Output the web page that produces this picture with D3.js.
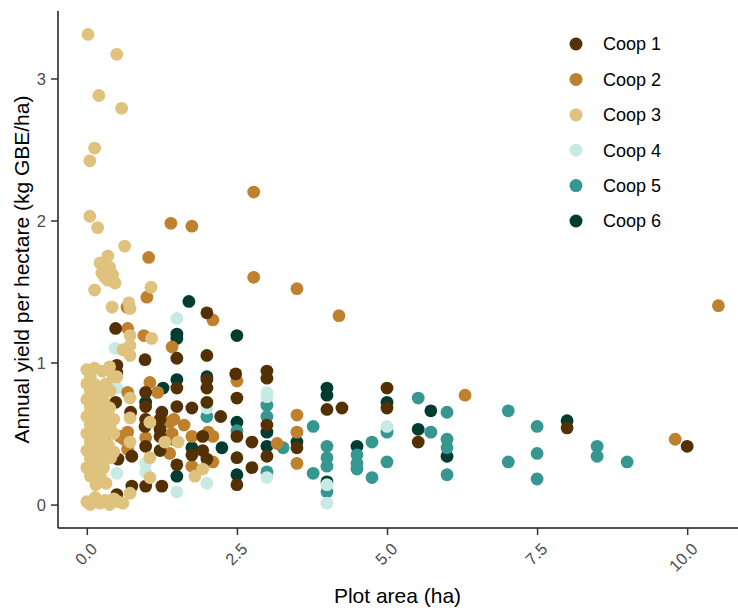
<!DOCTYPE html>
<html>
<head>
<meta charset="utf-8">
<script src="https://cdn.jsdelivr.net/npm/d3@7"></script>
<style>
  body { margin: 0; background: #fff; }
  svg { font-family: Arial, "Liberation Sans", sans-serif; }
</style>
</head>
<body>
<div id="plot"></div>
<script>
// Coop names and colours (BrBG palette)
const coopNames = ['Coop 1', 'Coop 2', 'Coop 3', 'Coop 4', 'Coop 5', 'Coop 6'];
const coopColors = ['#543005', '#bf812d', '#dfc27d', '#c7eae5', '#35978f', '#003c30'];

// [plot area (ha), annual yield (kg GBE/ha)]
const coop1 = [
    [0.48, 1.24], [0.97, 1.02], [1.5, 1.03], [2.0, 1.05], [2.0, 1.35],
    [0.5, 0.98], [0.5, 0.93], [0.48, 0.72], [0.73, 0.65], [0.52, 0.32], [0.75, 0.34],
    [0.75, 0.13], [0.98, 0.13], [1.25, 0.13], [0.28, 0.45], [0.5, 0.07],
    [0.98, 0.79], [0.98, 0.69], [0.98, 0.6], [0.97, 0.55], [0.98, 0.41],
    [1.22, 0.6], [1.22, 0.53], [1.22, 0.38], [1.25, 0.65], [1.22, 0.48],
    [1.5, 0.82], [1.5, 0.69], [1.5, 0.28], [1.75, 0.68], [1.75, 0.35],
    [2.0, 0.88], [2.0, 0.82], [2.0, 0.72], [1.93, 0.48], [1.93, 0.38], [2.0, 0.32],
    [2.23, 0.62], [2.48, 0.92], [2.5, 0.75], [2.5, 0.48], [2.5, 0.33], [2.5, 0.14],
    [2.75, 0.44], [2.75, 0.26], [3.0, 0.94], [3.0, 0.89], [3.0, 0.56], [3.0, 0.34],
    [3.5, 0.4], [4.0, 0.67], [4.25, 0.68], [5.0, 0.82], [5.0, 0.68], [5.52, 0.44],
    [8.0, 0.54], [10.0, 0.41]
];
const coop2 = [
    [2.78, 2.2], [1.4, 1.98], [1.75, 1.96], [1.03, 1.74], [2.78, 1.6], [3.5, 1.52],
    [4.2, 1.33], [10.52, 1.4], [1.0, 1.46], [0.67, 1.39], [2.1, 1.3], [0.68, 1.24],
    [0.95, 1.19], [1.42, 1.11], [1.05, 0.86], [1.18, 0.79], [0.68, 0.79], [2.5, 0.87],
    [0.55, 0.48], [0.68, 0.51], [0.68, 0.39], [0.98, 0.47], [0.62, 0.46],
    [1.38, 0.58], [1.45, 0.6], [1.62, 0.56], [1.42, 0.5], [1.42, 0.46], [1.38, 0.36],
    [1.75, 0.48], [2.02, 0.51], [2.1, 0.48], [1.75, 0.27], [2.1, 0.3],
    [3.17, 0.43], [3.5, 0.63], [3.5, 0.51], [3.5, 0.29], [6.3, 0.77], [9.8, 0.46]
];
const coop3 = [
    [0.02, 3.31], [0.5, 3.17], [0.2, 2.88], [0.58, 2.79], [0.13, 2.51], [0.05, 2.42],
    [0.05, 2.03], [0.18, 1.95], [0.63, 1.82], [0.35, 1.75],
    [0.22, 1.7], [0.38, 1.67], [0.25, 1.63], [0.43, 1.62], [0.35, 1.58], [0.47, 1.56], [0.3, 1.6],
    [0.13, 1.51], [1.07, 1.53], [0.42, 1.39], [0.7, 1.42], [0.72, 1.38],
    [0.72, 1.19], [0.72, 1.12], [0.6, 1.09], [0.72, 1.05], [1.08, 1.17],
    [0.0, 0.95], [0.13, 0.96], [0.26, 0.94], [0.38, 0.97], [0.06, 0.9], [0.44, 0.9],
    [0.0, 0.85], [0.15, 0.84], [0.32, 0.85], [0.06, 0.8], [0.23, 0.79], [0.39, 0.8],
    [0.0, 0.74], [0.13, 0.75], [0.28, 0.73], [0.06, 0.68], [0.2, 0.67], [0.38, 0.68],
    [0.0, 0.62], [0.15, 0.61], [0.32, 0.62], [0.45, 0.6], [0.06, 0.56], [0.23, 0.55], [0.39, 0.56],
    [0.0, 0.5], [0.13, 0.5], [0.28, 0.49], [0.45, 0.5], [0.06, 0.44], [0.2, 0.43], [0.36, 0.42],
    [0.0, 0.38], [0.15, 0.37], [0.32, 0.38], [0.45, 0.37], [0.06, 0.32], [0.25, 0.31], [0.4, 0.33],
    [0.0, 0.26], [0.13, 0.25], [0.28, 0.26], [0.06, 0.2], [0.23, 0.19], [0.15, 0.14], [0.32, 0.15],
    [0.0, 0.02], [0.06, 0.0], [0.14, 0.05], [0.22, 0.01], [0.3, 0.03], [0.38, 0.0],
    [0.45, 0.04], [0.52, 0.02], [0.6, 0.01], [0.72, 0.08],
    [0.5, 0.9], [0.72, 0.75], [0.72, 0.61], [0.72, 0.44],
    [1.05, 0.58], [1.05, 0.33], [1.05, 0.19], [1.3, 0.44],
    [1.52, 0.44], [1.8, 0.2], [1.93, 0.25]
];
const coop4 = [
    [1.5, 1.31], [0.47, 1.1], [0.5, 0.82], [0.5, 0.22], [0.98, 0.29], [0.98, 0.23],
    [1.5, 0.09], [2.0, 0.68], [2.0, 0.15], [3.0, 0.79], [3.0, 0.76], [3.0, 0.19],
    [4.0, 0.14], [4.0, 0.01], [5.0, 0.55]
];
const coop5 = [
    [2.0, 0.62], [2.5, 0.52], [3.0, 0.7], [3.0, 0.62], [3.0, 0.23], [3.27, 0.4],
    [3.77, 0.55], [3.77, 0.22], [4.0, 0.41], [4.0, 0.33], [4.0, 0.27], [4.0, 0.09],
    [4.5, 0.35], [4.5, 0.29], [4.5, 0.25], [4.75, 0.44], [4.75, 0.19], [5.0, 0.51], [5.0, 0.3],
    [5.52, 0.75], [5.73, 0.51], [6.0, 0.65], [6.0, 0.46], [6.0, 0.4], [6.0, 0.21],
    [7.02, 0.66], [7.02, 0.3], [7.5, 0.55], [7.5, 0.36], [7.5, 0.18],
    [8.5, 0.41], [8.5, 0.34], [9.0, 0.3]
];
const coop6 = [
    [1.7, 1.43], [1.5, 1.2], [1.5, 1.17], [2.5, 1.19], [1.27, 0.82], [0.98, 0.72],
    [1.5, 0.88], [2.0, 0.9], [1.5, 0.2], [1.75, 0.4], [2.25, 0.4], [2.5, 0.58], [2.5, 0.21],
    [3.0, 0.51], [3.0, 0.41], [3.5, 0.44], [4.0, 0.82], [4.0, 0.77], [4.0, 0.16],
    [4.5, 0.41], [5.0, 0.72], [5.52, 0.53], [5.73, 0.66], [6.0, 0.34], [8.0, 0.59], [0.22, 0.67]
];
const coopData = [coop1, coop2, coop3, coop4, coop5, coop6];
// drawing order (later ones on top)
const drawOrder = [5, 4, 3, 1, 0, 2];

const xTicks = [0, 2.5, 5, 7.5, 10];
const yTicks = [0, 1, 2, 3];
const xTitle = 'Plot area (ha)';
const yTitle = 'Annual yield per hectare (kg GBE/ha)';

const width = 738, height = 610;
const panel = {left: 58, right: 737, top: 11, bottom: 528};

const svg = d3.select('#plot').append('svg')
    .attr('width', width)
    .attr('height', height);

const x = d3.scaleLinear().domain([-0.48, 10.83]).range([panel.left, panel.right]);
const y = d3.scaleLinear().domain([-0.165, 3.475]).range([panel.bottom, panel.top]);

// points
drawOrder.forEach(i => {
    svg.append('g')
        .selectAll('circle')
        .data(coopData[i])
        .enter()
        .append('circle')
        .attr('cx', d => x(d[0]))
        .attr('cy', d => y(d[1]))
        .attr('r', 6.4)
        .attr('fill', coopColors[i]);
});

// axes
const xAxis = svg.append('g')
    .attr('transform', `translate(0,${panel.bottom})`)
    .call(d3.axisBottom(x).tickValues(xTicks).tickSize(7).tickFormat(d3.format('.1f')));
const yAxis = svg.append('g')
    .attr('transform', `translate(${panel.left},0)`)
    .call(d3.axisLeft(y).tickValues(yTicks).tickSize(7).tickFormat(d3.format('d')));

[xAxis, yAxis].forEach(ax => {
    ax.select('.domain').attr('stroke', '#1a1a1a').attr('stroke-width', 1.5);
    ax.selectAll('.tick line').attr('stroke', '#333').attr('stroke-width', 1.5);
    ax.selectAll('.tick text').attr('fill', '#4d4d4d').style('font-size', '16.5px');
});
xAxis.select('.domain').attr('d', `M${panel.left},0H${width}`);
yAxis.select('.domain').attr('d', `M0,${panel.top}V${panel.bottom}`);

yAxis.selectAll('.tick text').attr('x', -12).attr('dy', '0.36em');
xAxis.selectAll('.tick text')
    .attr('y', 0)
    .attr('dy', 0)
    .attr('text-anchor', 'end')
    .attr('transform', 'translate(11,22) rotate(-45)');

// axis titles
svg.append('text')
    .attr('x', (panel.left + panel.right) / 2)
    .attr('y', 603)
    .attr('text-anchor', 'middle')
    .style('font-size', '21px')
    .attr('fill', '#000')
    .text(xTitle);

svg.append('text')
    .attr('transform', `translate(29,${(panel.top + panel.bottom) / 2}) rotate(-90)`)
    .attr('text-anchor', 'middle')
    .style('font-size', '21px')
    .attr('fill', '#000')
    .text(yTitle);

// legend
const legend = svg.append('g').attr('transform', 'translate(576,44)');
coopNames.forEach((name, i) => {
    const row = legend.append('g').attr('transform', `translate(0,${i * 35.4})`);
    row.append('circle').attr('r', 6.5).attr('fill', coopColors[i]);
    row.append('text')
        .attr('x', 27)
        .attr('dy', '0.36em')
        .style('font-size', '18px')
        .attr('fill', '#000')
        .text(name);
});
</script>
</body>
</html>
